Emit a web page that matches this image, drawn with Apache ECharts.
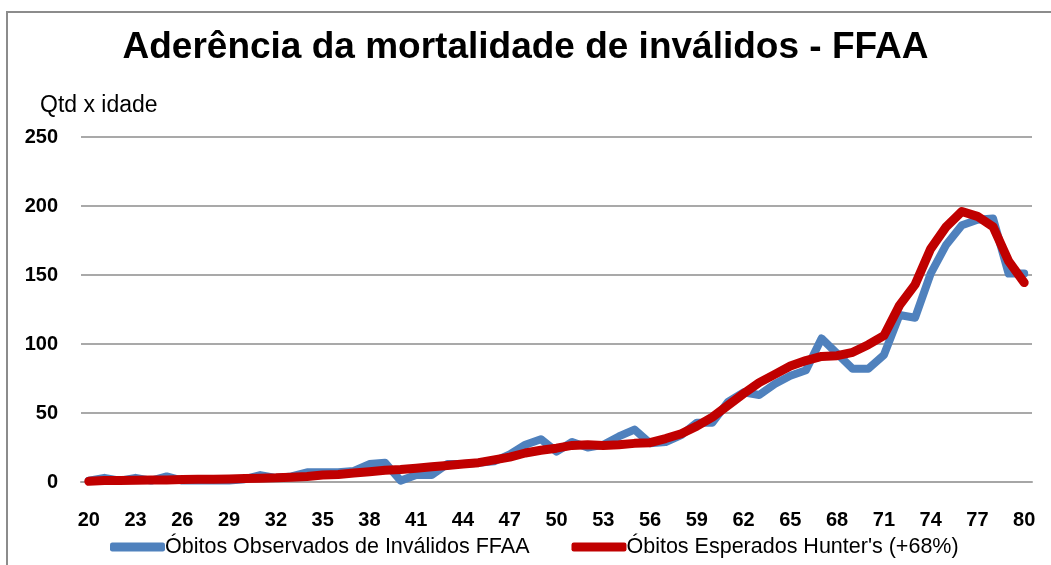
<!DOCTYPE html>
<html>
<head>
<meta charset="utf-8">
<script src="https://cdn.jsdelivr.net/npm/echarts@6/dist/echarts.min.js"></script>
<style>
  html, body { margin: 0; padding: 0; background: #fff; }
  #chart { width: 1051px; height: 565px; }
</style>
</head>
<body>
<div id="chart"></div>
<script>
// idades (eixo x)
const ages = ['20','21','22','23','24','25','26','27','28','29',
  '30','31','32','33','34','35','36','37','38','39',
  '40','41','42','43','44','45','46','47','48','49',
  '50','51','52','53','54','55','56','57','58','59',
  '60','61','62','63','64','65','66','67','68','69',
  '70','71','72','73','74','75','76','77','78','79','80'];

// Óbitos observados (azul)
const observados = [1, 3, 1, 3, 1, 4, 1, 1, 1, 1,
  2, 5, 3, 4, 7, 7, 7, 8, 13, 14,
  1, 5, 5, 13, 13, 14, 15, 20, 27, 31,
  22, 29, 25, 27, 33, 38, 28, 29, 34, 43,
  43, 58, 65, 63, 71, 77, 81, 104, 93, 82,
  82, 92, 121, 119, 151, 172, 186, 190, 191, 151, 151];

// Óbitos esperados Hunter's +68% (vermelho)
const esperados = [0.5, 1, 1, 1.2, 1.5, 1.5, 1.8, 2, 2, 2.2,
  2.5, 2.8, 3, 3.5, 4, 5, 5.5, 6.5, 7.5, 8.5,
  9, 10, 11, 12, 13, 14, 16, 18, 21, 23,
  24.5, 26.5, 27, 26.5, 27, 28, 28.5, 31.5, 35, 40.5,
  47, 55.5, 64, 72, 78, 84, 88, 91, 91.5, 94,
  99.5, 106, 128, 143, 169, 185, 196, 192.5, 185, 160, 144.5];

const seriesNames = ['Óbitos Observados de Inválidos FFAA', "Óbitos Esperados Hunter's (+68%)"];

const chart = echarts.init(document.getElementById('chart'));

const option = {
  animation: false,
  backgroundColor: '#fff',
  textStyle: { fontFamily: 'Liberation Sans' },
  title: {
    text: 'Aderência da mortalidade de inválidos - FFAA',
    left: 'center',
    top: 24,
    textStyle: { fontSize: 37, fontWeight: 'bold', color: '#000', fontFamily: 'Liberation Sans' }
  },
  graphic: [
    {
      type: 'rect',
      shape: { x: 7, y: 12, width: 1100, height: 600 },
      style: { fill: 'none', stroke: '#8c8c8c', lineWidth: 2 },
      silent: true
    },
    {
      type: 'text',
      left: 40,
      top: 94,
      style: { text: 'Qtd x idade', fontSize: 23, fill: '#000', fontFamily: 'Liberation Sans' }
    }
  ],
  legend: {
    bottom: 2,
    left: 105,
    itemGap: 42,
    itemWidth: 55,
    itemHeight: 9,
    icon: 'roundRect',
    textStyle: { fontSize: 21.5, color: '#000', padding: [0, 0, 0, -5] },
    data: seriesNames
  },
  grid: { left: 81, right: 19, top: 137, bottom: 83 },
  xAxis: {
    type: 'category',
    data: ages,
    boundaryGap: true,
    axisLine: { lineStyle: { color: '#a6a6a6', width: 2 } },
    axisTick: { show: false },
    axisLabel: { interval: 2, fontSize: 20, fontWeight: 'bold', color: '#000', margin: 28 }
  },
  yAxis: {
    type: 'value',
    min: 0,
    max: 250,
    interval: 50,
    axisLine: { show: false },
    axisTick: { show: false },
    axisLabel: { fontSize: 20, fontWeight: 'bold', color: '#000', margin: 23 },
    splitLine: { lineStyle: { color: '#8c8c8c', width: 1.5 } }
  },
  series: [
    {
      name: seriesNames[0],
      type: 'line',
      data: observados,
      symbol: 'none',
      color: '#4f81bd',
      lineStyle: { width: 8, color: '#4f81bd', join: 'round', cap: 'round' }
    },
    {
      name: seriesNames[1],
      type: 'line',
      data: esperados,
      symbol: 'none',
      color: '#c00000',
      lineStyle: { width: 9, color: '#c00000', join: 'round', cap: 'round' }
    }
  ]
};

chart.setOption(option);
</script>
</body>
</html>
